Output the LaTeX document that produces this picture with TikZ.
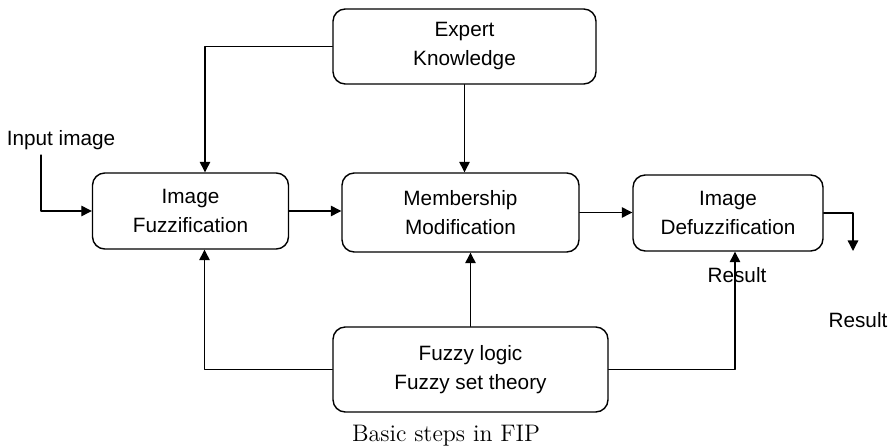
\documentclass[tikz,border=0pt]{standalone}
\usepackage{fontspec}
\setmainfont{Liberation Sans}
\newfontfamily\captionfont{Latin Modern Roman}
\usetikzlibrary{arrows.meta,positioning}

\begin{document}
\begin{tikzpicture}[
    line cap=round,
    line join=round,
    block/.style={
        draw,
        line width=0.8pt,
        rounded corners=7pt,
        align=center,
        inner sep=0pt
    },
    flow/.style={
        line width=0.75pt,
        -{Triangle[length=6pt,width=6pt]}
    },
    every node/.style={
        font=\fontsize{11.8}{16.5}\selectfont
    }
]

% =================================================
% Рамка
% =================================================

\useasboundingbox (0,0) rectangle (17.92,8.94);

% =================================================
% Блоки
% =================================================

\node[block, minimum width=5.26cm, minimum height=1.5cm]
    (expert) at (9.29,8.01) {Expert\\Knowledge};

\node[block, minimum width=3.92cm, minimum height=1.52cm]
    (fuzz) at (3.81,4.72) {Image\\Fuzzification};

\node[block, minimum width=4.74cm, minimum height=1.58cm]
    (memb) at (9.21,4.69) {Membership\\Modification};

\node[block, minimum width=3.8cm, minimum height=1.52cm]
    (defuz) at (14.56,4.68) {Image\\Defuzzification};

\node[block, minimum width=5.5cm, minimum height=1.7cm]
    (theory) at (9.41,1.55) {Fuzzy logic\\Fuzzy set theory};

% =================================================
% Подписи
% =================================================

\node (input)   at (1.22,6.14) {Input image};
\node (result1) at (14.74,3.44) {Result};
\node (result2) at (17.16,2.54) {Result};

\node[font=\captionfont\fontsize{13.6}{16}\selectfont]
    (caption) at (8.92,0.22) {Basic steps in FIP};

% Свободные концы стрелок
\coordinate (instart) at (0.82,5.84);
\coordinate (outend)  at (17.06,3.92);

% =================================================
% Стрелки
% =================================================

% Вход и выход
\draw[flow] (instart) |- (fuzz.west);
\draw[flow] (defuz.east) -| (outend);

% Основной поток
\draw[flow] (fuzz.east) -- (fuzz.east -| memb.west);
\draw[flow] (memb.east) -- (memb.east -| defuz.west);

% От экспертных знаний
\draw[flow] (expert.west) -| ([xshift=2.9mm]fuzz.north);
\draw[flow] (expert.south) -- (expert.south |- memb.north);

% От теории нечётких множеств
\draw[flow] (theory.west) -| ([xshift=2.8mm]fuzz.south);
\draw[flow] (theory.north) -- (theory.north |- memb.south);
\draw[flow] (theory.east) -| ([xshift=1.4mm]defuz.south);

\end{tikzpicture}
\end{document}
